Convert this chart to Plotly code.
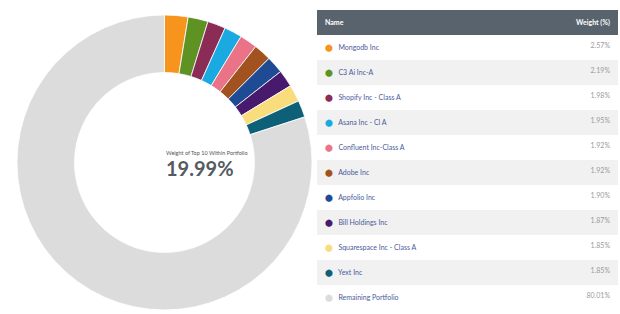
import plotly.graph_objects as go

names = ["Mongodb Inc", "C3 Ai Inc-A", "Shopify Inc - Class A", "Asana Inc - Cl A",
         "Confluent Inc-Class A", "Adobe Inc", "Appfolio Inc", "Bill Holdings Inc",
         "Squarespace Inc - Class A", "Yext Inc", "Remaining Portfolio"]
weights = [2.57, 2.19, 1.98, 1.95, 1.92, 1.92, 1.90, 1.87, 1.85, 1.85, 80.01]
colors = ["#f7941d", "#5e9324", "#8a2c55", "#1aa9e0", "#ea7388", "#a2521f",
          "#1f4a94", "#481a6e", "#f9dc7c", "#0d6078", "#dcdcdc"]
center_label = "Weight of Top 10 Within Portfolio"
center_value = "19.99%"

W, H = 620, 314

fig = go.Figure()
fig.add_trace(go.Pie(
    labels=names, values=weights, sort=False, direction="clockwise", rotation=0,
    hole=0.61, marker=dict(colors=colors, line=dict(color="white", width=0.8)),
    textinfo="none", hoverinfo="label+value", showlegend=False,
    domain=dict(x=[17 / W, 312 / W], y=[1 - 310 / H, 1 - 15 / H]),
))

name_cells = [f"<span style='color:{c}'>⬤</span>&nbsp;&nbsp;&nbsp;{n}" for n, c in zip(names, colors)]
value_cells = [f"{v:.2f}%" for v in weights]
fills = ["#ffffff" if i % 2 == 0 else "#f1f1f1" for i in range(len(names))]

fig.add_trace(go.Table(
    domain=dict(x=[317 / W, 618 / W], y=[0, 1 - 10 / H]),
    columnwidth=[230, 71],
    header=dict(values=["<b>Name</b>", "<b>Weight (%)</b>"],
                fill_color="#59636d", line=dict(color="#59636d", width=0),
                font=dict(color="white", size=7, family="Lato"),
                align=["left", "right"], height=24),
    cells=dict(values=[name_cells, value_cells],
               fill_color=[fills, fills], line=dict(color="rgba(0,0,0,0)", width=0),
               font=dict(color=["#4a5a9c", "#9a9a9a"], size=7, family="Lato"),
               align=["left", "right"], height=24.6),
))

fig.add_annotation(x=164 / W, y=1 - 153 / H, xref="paper", yref="paper",
                   text=center_label, showarrow=False,
                   font=dict(size=5.5, color="#555555", family="Lato"))
fig.add_annotation(x=164 / W, y=1 - 168 / H, xref="paper", yref="paper",
                   text="<b>" + center_value + "</b>", showarrow=False,
                   font=dict(size=20, color="#555b61", family="Lato"))

fig.update_layout(width=W, height=H, margin=dict(l=0, r=0, t=0, b=0),
                  paper_bgcolor="white", plot_bgcolor="white")
fig.write_html("out.html", config={"displayModeBar": False},
               post_script="document.body.style.margin='0';")
